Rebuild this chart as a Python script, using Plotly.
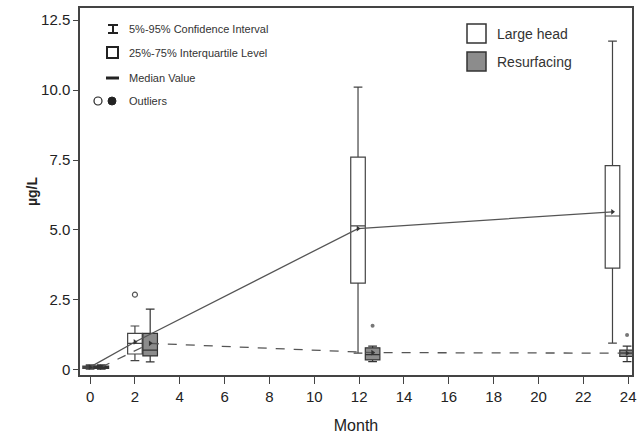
import plotly.graph_objects as go

# ---- data ----
months = [0, 2, 12, 24]

large_x = [0.0, 2.0, 11.95, 23.3]
large_lo = [0.03, 0.33, 0.6, 0.96]
large_q1 = [0.06, 0.57, 3.1, 3.64]
large_med = [0.1, 0.95, 5.15, 5.5]
large_q3 = [0.14, 1.31, 7.6, 7.3]
large_hi = [0.18, 1.57, 10.1, 11.75]
large_mean = [0.1, 1.0, 5.05, 5.65]
large_out_x = [2.0]
large_out_y = [2.69]

resurf_x = [0.5, 2.68, 12.6, 23.95]
resurf_lo = [0.03, 0.29, 0.3, 0.3]
resurf_q1 = [0.06, 0.5, 0.36, 0.48]
resurf_med = [0.1, 0.71, 0.55, 0.6]
resurf_q3 = [0.14, 1.31, 0.79, 0.71]
resurf_hi = [0.18, 2.17, 0.85, 0.85]
resurf_mean = [0.1, 0.95, 0.62, 0.6]
resurf_out_x = [12.6, 23.95]
resurf_out_y = [1.58, 1.25]

y_ticks = [0, 2.5, 5.0, 7.5, 10.0, 12.5]
y_ticktext = ["0", "2.5", "5.0", "7.5", "10.0", "12.5"]
x_ticks = list(range(0, 25, 2))

# ---- geometry helpers (pixel -> paper) ----
L, R, T, B = 80, 632, 8, 375
W, H = R - L, B - T
def px(x): return (x - L) / W
def py(y): return (B - y) / H

LINE = "#444444"
fig = go.Figure()

fig.add_trace(go.Box(
    x=large_x, q1=large_q1, median=large_med, q3=large_q3,
    lowerfence=large_lo, upperfence=large_hi,
    width=0.65, whiskerwidth=0.6, fillcolor="white",
    line=dict(color=LINE, width=1.2), boxpoints=False, showlegend=False))
fig.add_trace(go.Box(
    x=resurf_x, q1=resurf_q1, median=resurf_med, q3=resurf_q3,
    lowerfence=resurf_lo, upperfence=resurf_hi,
    width=0.65, whiskerwidth=0.6, fillcolor="#8c8c8c",
    line=dict(color="#333333", width=1.2), boxpoints=False, showlegend=False))

fig.add_trace(go.Scatter(
    x=large_x, y=large_mean, mode="lines+markers",
    line=dict(color="#555555", width=1.3),
    marker=dict(symbol="triangle-right", size=5, color="#333333"),
    showlegend=False))
fig.add_trace(go.Scatter(
    x=resurf_x, y=resurf_mean, mode="lines+markers",
    line=dict(color="#555555", width=1.3, dash="dash"),
    marker=dict(symbol="triangle-right", size=5, color="#333333"),
    showlegend=False))

fig.add_trace(go.Scatter(
    x=large_out_x, y=large_out_y, mode="markers",
    marker=dict(symbol="circle-open", size=5, color="#555555", line=dict(width=1.2)),
    showlegend=False))
fig.add_trace(go.Scatter(
    x=resurf_out_x, y=resurf_out_y, mode="markers",
    marker=dict(symbol="circle", size=4, color="#777777"),
    showlegend=False))

shapes = []
ann = []
sym_col = "#222222"
shapes += [
    dict(type="line", xref="paper", yref="paper", x0=px(108), x1=px(118), y0=py(25), y1=py(25), line=dict(color=sym_col, width=2)),
    dict(type="line", xref="paper", yref="paper", x0=px(108), x1=px(118), y0=py(33), y1=py(33), line=dict(color=sym_col, width=2)),
    dict(type="line", xref="paper", yref="paper", x0=px(113), x1=px(113), y0=py(25), y1=py(33), line=dict(color=sym_col, width=2)),
    dict(type="rect", xref="paper", yref="paper", x0=px(107), x1=px(118), y0=py(47), y1=py(58), line=dict(color=sym_col, width=2)),
    dict(type="line", xref="paper", yref="paper", x0=px(106), x1=px(119), y0=py(78), y1=py(78), line=dict(color=sym_col, width=3)),
    dict(type="circle", xref="paper", yref="paper", x0=px(94), x1=px(102), y0=py(97), y1=py(105), line=dict(color=sym_col, width=1.2)),
    dict(type="circle", xref="paper", yref="paper", x0=px(108), x1=px(116), y0=py(97), y1=py(105), line=dict(color=sym_col, width=1), fillcolor=sym_col),
]
key_txt = ["5%-95% Confidence Interval", "25%-75% Interquartile Level", "Median Value", "Outliers"]
key_y = [29, 53, 78, 101]
for t, yy in zip(key_txt, key_y):
    ann.append(dict(text=t, xref="paper", yref="paper", x=px(127), y=py(yy), xanchor="left", yanchor="middle",
                    showarrow=False, font=dict(family="Liberation Sans, Arial, sans-serif", size=11, color="#333333")))

shapes += [
    dict(type="rect", xref="paper", yref="paper", x0=px(467), x1=px(486), y0=py(43), y1=py(24), line=dict(color="#333333", width=1.5), fillcolor="white"),
    dict(type="rect", xref="paper", yref="paper", x0=px(467), x1=px(486), y0=py(71), y1=py(52), line=dict(color="#333333", width=1.5), fillcolor="#8c8c8c"),
]
for t, yy in zip(["Large head", "Resurfacing"], [34, 62]):
    ann.append(dict(text=t, xref="paper", yref="paper", x=px(495), y=py(yy), xanchor="left", yanchor="middle",
                    showarrow=False, font=dict(family="Liberation Sans, Arial, sans-serif", size=14, color="#333333")))

tickfont = dict(family="Liberation Sans Narrow, Arial Narrow, Liberation Sans, sans-serif", size=15, color="#222222")
fig.update_layout(
    width=640, height=439,
    margin=dict(l=L, r=640 - R, t=T, b=439 - B, autoexpand=False),
    paper_bgcolor="white", plot_bgcolor="white",
    shapes=shapes, annotations=ann,
    xaxis=dict(range=[-0.45, 24.17], tickvals=x_ticks, ticks="outside", ticklen=7, tickcolor="#444444",
               showline=True, linecolor="#444444", linewidth=1.5, mirror=True, showgrid=False, zeroline=False,
               tickfont=tickfont, automargin=False,
               title=dict(text="Month", font=dict(family="Liberation Sans Narrow, Arial Narrow, sans-serif", size=16, color="#222222"), standoff=16)),
    yaxis=dict(range=[-0.18, 12.93], tickvals=y_ticks, ticktext=y_ticktext, ticks="outside", ticklen=5, tickcolor="#444444",
               showline=True, linecolor="#444444", linewidth=1.5, mirror=True, showgrid=False, zeroline=False,
               tickfont=tickfont, automargin=False,
               title=dict(text="<b>µg/L</b>", font=dict(family="Liberation Sans, Arial, sans-serif", size=14, color="#222222"), standoff=0)),
)

fig.write_html("out.html", config={"displayModeBar": False},
               post_script="document.body.style.margin='0';")
